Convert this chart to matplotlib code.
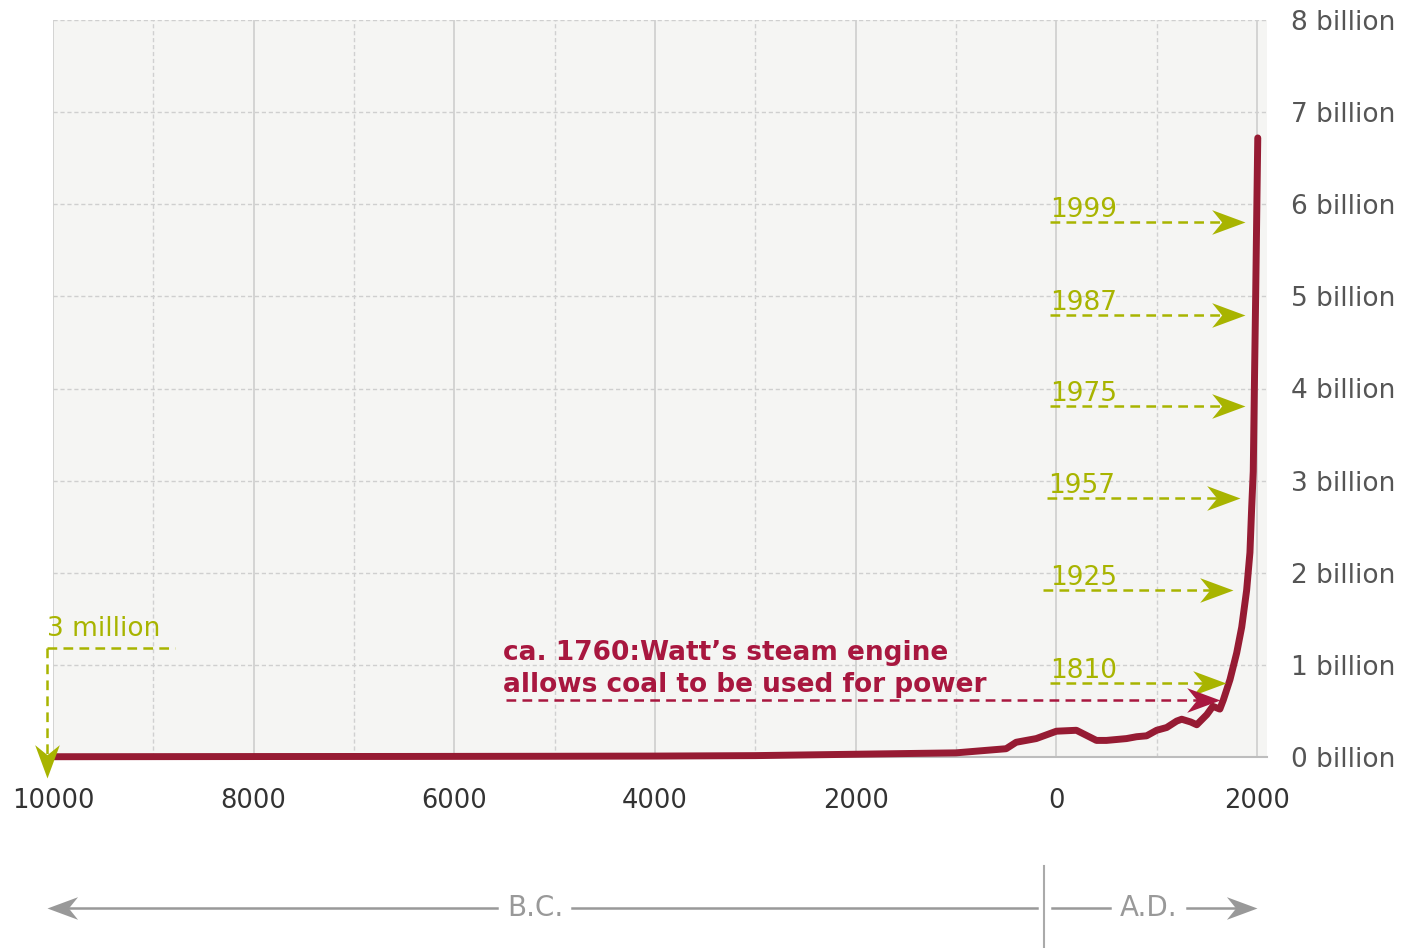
import matplotlib
matplotlib.use('Agg')
import matplotlib.pyplot as plt
from matplotlib.path import Path
from matplotlib.markers import MarkerStyle
from matplotlib.transforms import Affine2D
from matplotlib.ticker import FuncFormatter

plt.rcParams['font.family'] = ['DejaVu Sans']
plt.rcParams['lines.scale_dashes'] = False

# ---------------- data ----------------
years = [-10000, -8000, -6500, -5000, -4000, -3000, -2000, -1000, -500, -400,
         -200, 1, 200, 400, 500, 600, 700, 800, 900, 1000,
         1100, 1200, 1250, 1340, 1400, 1500, 1560, 1630, 1665, 1731,
         1798, 1848, 1897, 1930, 1947, 1963, 1974, 1987, 1999, 2008]
population_billion = [0.003, 0.005, 0.006, 0.008, 0.010, 0.015, 0.030, 0.045, 0.09, 0.16,
                      0.20, 0.28, 0.29, 0.18, 0.18, 0.19, 0.20, 0.22, 0.23, 0.29,
                      0.32, 0.39, 0.41, 0.38, 0.35, 0.46, 0.55, 0.52, 0.62, 0.84,
                      1.13, 1.41, 1.81, 2.22, 2.70, 3.10, 4.00, 5.00, 6.00, 6.72]

milestone_labels = ['1999', '1987', '1975', '1957', '1925', '1810']
start_label = '3 million'
watt_lines = ['ca. 1760:Watt\u2019s steam engine', 'allows coal to be used for power']
era_labels = ['B.C.', 'A.D.']

# ---------------- styles ----------------
CURVE = '#961b33'
OLIVE = '#a8b400'
RED = '#a8173f'
GRAY = '#999999'
BG = '#f5f5f3'

W, H = 1408, 948
fig = plt.figure(figsize=(W / 100, H / 100), dpi=100)
fig.patch.set_facecolor('white')

left_px, right_px, top_px, bottom_px = 53, 1267, 20, 757
ax = fig.add_axes([left_px / W, 1 - bottom_px / H, (right_px - left_px) / W, (bottom_px - top_px) / H])
ax.set_facecolor(BG)
ax.set_xlim(-10000, 2100)
ax.set_ylim(0, 8)

ax.set_xticks(list(range(-10000, 2001, 2000)))
ax.set_xticks(list(range(-9000, 2000, 2000)), minor=True)
ax.set_yticks(list(range(0, 9)))
ax.xaxis.set_major_formatter(FuncFormatter(lambda v, p: f'{abs(int(v))}'))
ax.yaxis.set_major_formatter(FuncFormatter(lambda v, p: f'{int(v)} billion'))
ax.yaxis.tick_right()
ax.tick_params(axis='x', which='both', length=0, pad=22, labelsize=18.5, labelcolor='#333333')
ax.tick_params(axis='y', which='both', length=0, pad=17, labelsize=19, labelcolor='#555555')

ax.grid(which='major', axis='x', color='#cacaca', lw=1.1, ls='-')
ax.grid(which='minor', axis='x', color='#d0d0d0', lw=1.0, ls=(0, (3, 2)))
ax.grid(which='major', axis='y', color='#cfcfcf', lw=1.0, ls=(0, (3, 2)))
ax.set_axisbelow(True)
for s in ['top', 'left', 'right']:
    ax.spines[s].set_visible(False)
ax.spines['bottom'].set_color('#bdbdbd')
ax.spines['bottom'].set_linewidth(1.5)

# population curve
ax.plot(years, population_billion, color=CURVE, lw=5, solid_capstyle='round',
        solid_joinstyle='round', clip_on=False, zorder=5)

# arrowhead marker (tip at origin)
head = Path([(0, 0), (-1, 0.37), (-0.7, 0), (-1, -0.37), (0, 0)],
            [Path.MOVETO, Path.LINETO, Path.LINETO, Path.LINETO, Path.CLOSEPOLY])
head_right = MarkerStyle(head)
head_down = MarkerStyle(head, transform=Affine2D().rotate_deg(-90))
head_left = MarkerStyle(head, transform=Affine2D().rotate_deg(180))
DASH = (0, (7, 4.5))

def px2x(px):
    return (px - left_px) / ((right_px - left_px) / 12100) - 10000

def px2y(py):
    return (bottom_px - py) / ((bottom_px - top_px) / 8)

# milestone arrows (layout in pixels of the reference)
milestone_layout = [  # (text_x, arrow_y, arrow_x0, arrow_x1)
    (1050, 222, 1050, 1245),
    (1050, 315, 1050, 1245),
    (1050, 406, 1050, 1245),
    (1048, 498, 1047, 1240),
    (1050, 590, 1043, 1233),
    (1050, 683, 1050, 1226),
]
for lab, (tx, ay, x0, x1) in zip(milestone_labels, milestone_layout):
    y = px2y(ay)
    ax.plot([px2x(x0), px2x(x1) - 60], [y, y], color=OLIVE, lw=1.8, ls=DASH, zorder=6, clip_on=False)
    ax.plot([px2x(x1)], [y], marker=head_right, ms=48, color=OLIVE, mew=0, ls='none', zorder=6, clip_on=False)
    ax.text(px2x(tx), px2y(ay - 5), lab, color=OLIVE, fontsize=19, ha='left', va='baseline', zorder=7)

# Watt annotation
ry = px2y(700)
ax.plot([px2x(506), px2x(1220) - 60], [ry, ry], color=RED, lw=1.8, ls=DASH, zorder=6)
ax.plot([px2x(1220)], [ry], marker=head_right, ms=48, color=RED, mew=0, ls='none', zorder=6)
ax.text(px2x(503), px2y(660), watt_lines[0], color=RED, fontsize=19, fontweight='bold',
        ha='left', va='baseline', zorder=7)
ax.text(px2x(503), px2y(692), watt_lines[1], color=RED, fontsize=19, fontweight='bold',
        ha='left', va='baseline', zorder=7)

# 3 million annotation
sy = px2y(648)
ax.plot([px2x(47), px2x(175)], [sy, sy], color=OLIVE, lw=1.8, ls=DASH, zorder=6, clip_on=False)
ax.plot([px2x(47), px2x(47)], [sy, px2y(760)], color=OLIVE, lw=1.8, ls=DASH, zorder=6, clip_on=False)
ax.plot([px2x(47)], [px2y(778)], marker=head_down, ms=48, color=OLIVE, mew=0, ls='none',
        zorder=6, clip_on=False)
ax.text(px2x(47), px2y(636), start_label, color=OLIVE, fontsize=19, ha='left', va='baseline', zorder=7)

# ---------------- era bar (B.C. / A.D.) ----------------
ov = fig.add_axes([0, 0, 1, 1])
ov.set_xlim(0, W)
ov.set_ylim(H, 0)
ov.axis('off')
ov.patch.set_visible(False)
ey = 908
ov.plot([60, 497], [ey, ey], color=GRAY, lw=1.8)
ov.plot([572, 1037], [ey, ey], color=GRAY, lw=1.8)
ov.plot([1052, 1110], [ey, ey], color=GRAY, lw=1.8)
ov.plot([1187, 1245], [ey, ey], color=GRAY, lw=1.8)
ov.plot([47], [ey], marker=head_left, ms=44, color=GRAY, mew=0, ls='none')
ov.plot([1257], [ey], marker=head_right, ms=44, color=GRAY, mew=0, ls='none')
ov.plot([1044, 1044], [866, 948], color='#aaaaaa', lw=1.5)
ov.text(535, ey, era_labels[0], color=GRAY, fontsize=20, ha='center', va='center')
ov.text(1149, ey, era_labels[1], color=GRAY, fontsize=20, ha='center', va='center')

fig.savefig('out.png', dpi=100, facecolor='white')
